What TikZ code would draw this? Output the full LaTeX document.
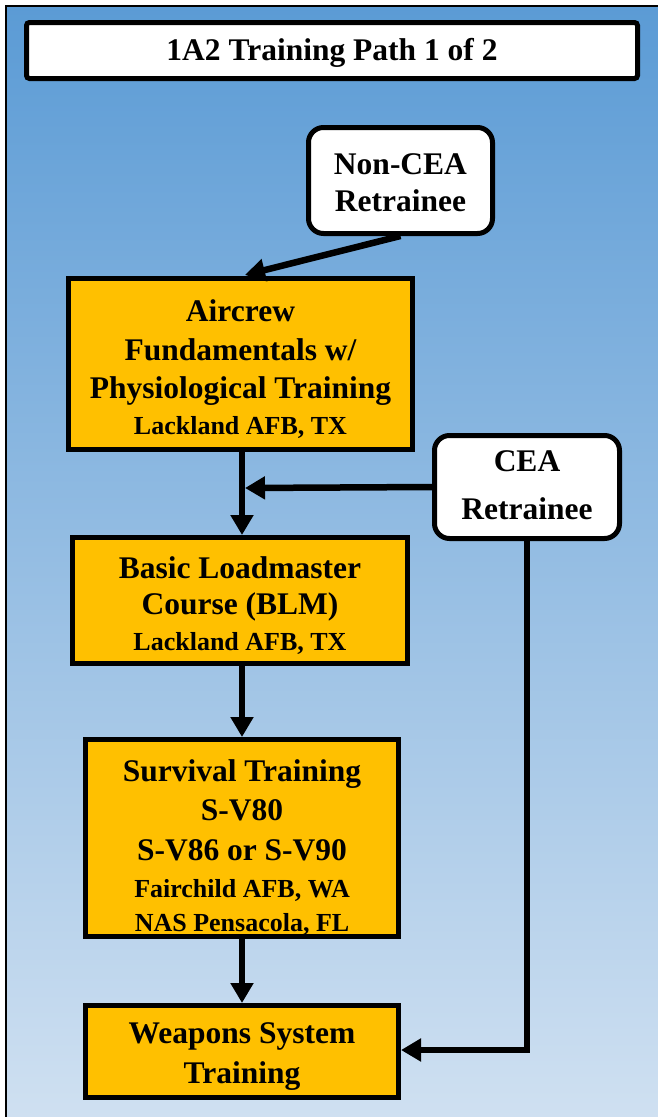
\documentclass[tikz,border=0pt]{standalone}
\usepackage{fontspec}
\newfontfamily\tnr{Liberation Serif}
\usetikzlibrary{arrows.meta}
\definecolor{bgtop}{RGB}{91,155,213}
\definecolor{bgbot}{RGB}{207,224,241}
\definecolor{gold}{RGB}{255,192,0}
\newcommand{\mainf}{\tnr\bfseries\fontsize{31.5}{38.5}\selectfont}
\newcommand{\smf}{\fontsize{26}{38.5}\selectfont}
\newcommand{\up}[1]{\rule{0pt}{#1}}
\begin{document}
\begin{tikzpicture}[x=1pt,y=-1pt,
  box/.style={draw=black, line width=5pt, fill=gold, align=center, inner sep=0pt, font=\mainf},
  rbox/.style={box, fill=white, rounded corners=15pt},
  arr/.style={line width=6.5pt, -{Triangle[length=20pt,width=22pt]}}
]
\useasboundingbox (0,0) rectangle (658,1117);
\shade[top color=bgtop, bottom color=bgbot] (6,6) rectangle (658,1117);
\draw[line width=2pt] (6,1117) -- (6,6) -- (658,6);

\node[box, fill=white, rounded corners=3pt, minimum width=611pt, minimum height=56pt] (title) at (332,50.5) {\up{27.5pt}1A2 Training Path 1 of 2};
\node[rbox, minimum width=184pt, minimum height=106pt] (noncea) at (400.5,180.5) {\up{25.5pt}Non-CEA\\[-1.5pt]Retrainee};
\node[box, minimum width=344pt, minimum height=171pt] (aircrew) at (240.5,364) {\up{31.5pt}Aircrew\\[0.5pt]Fundamentals w/\\[-0.5pt]Physiological Training\\[-2.5pt]\smf Lackland AFB, TX};
\node[rbox, minimum width=185pt, minimum height=103pt] (cea) at (527,487) {CEA\\[9.5pt]Retrainee\rule[-4pt]{0pt}{4pt}};
\node[box, minimum width=335pt, minimum height=126pt] (blm) at (240,600.5) {\up{31.5pt}Basic Loadmaster\\[-2.5pt]Course (BLM)\\[-2.5pt]\smf Lackland AFB, TX};
\node[box, minimum width=313pt, minimum height=197pt] (surv) at (242,838) {\up{40.5pt}Survival Training\\[0.5pt]S-V80\\[1.5pt]S-V86 or S-V90\\[-1.5pt]\smf Fairchild AFB, WA\\[-4.5pt]\smf NAS Pensacola, FL};
\node[box, minimum width=313pt, minimum height=92pt] (weap) at (242,1051.5) {\up{30.5pt}Weapons System\\[1.5pt]Training};

\coordinate (a1) at (245,275);
\coordinate (j1) at (245,488);
\coordinate (v1) at (242,452);
\coordinate (v2) at (242,535);
\coordinate (v3) at (242,666);
\coordinate (v4) at (242,737);
\coordinate (v5) at (242,939);
\coordinate (v6) at (242,1003);
\coordinate (w1) at (401,1050);

\draw[arr] (noncea.south) -- (a1);
\draw[arr] (v1) -- (v2);
\draw[arr] (cea.west) -- (j1);
\draw[arr] (v3) -- (v4);
\draw[arr] (v5) -- (v6);
\draw[arr] (cea.south) |- (w1);
\end{tikzpicture}
\end{document}
